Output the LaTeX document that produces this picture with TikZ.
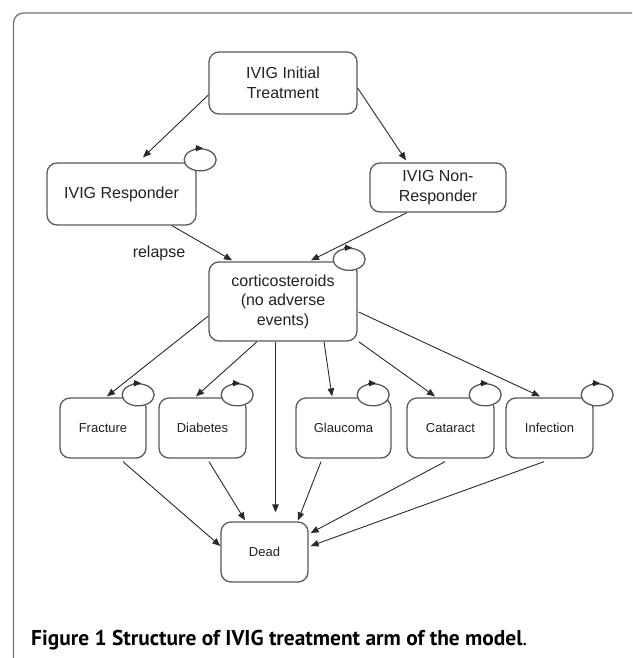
\documentclass[tikz,border=0pt]{standalone}
\usepackage{fontspec}
\setmainfont{Liberation Sans}
\newfontfamily\capfont{PT Sans}
\usetikzlibrary{arrows.meta,shapes.geometric,calc}
\definecolor{boxgray}{HTML}{5A5A5A}
\definecolor{linegray}{HTML}{2A2A2A}
\definecolor{framegray}{HTML}{707070}
\definecolor{txt}{HTML}{222222}
\begin{document}
\begin{tikzpicture}[x=1pt,y=-1pt,
  box/.style={draw=boxgray, line width=1.3pt, rounded corners=10pt, fill=white, inner sep=0pt,
    align=center, text=txt, font=\fontsize{16}{20}\selectfont},
  smallbox/.style={box, minimum height=60pt, font=\fontsize{13}{16}\selectfont},
  arr/.style={draw=linegray, line width=0.9pt, -{Triangle[length=8pt,width=6.5pt]}},
  loopell/.style={ellipse, draw=boxgray, line width=1.3pt, fill=white,
    minimum width=32pt, minimum height=22pt, inner sep=0pt},
  looptip/.style={draw=linegray, line width=0.9pt, -{Triangle[length=7pt,width=6pt]}},
]
\useasboundingbox (0,0) rectangle (632,658);
\fill[white] (0,0) rectangle (632,658);
\begin{scope}
  \clip (0,0) rectangle (632,658);
  \draw[framegray, line width=1.2pt, rounded corners=10pt] (13.5,13) rectangle (642,700);
\end{scope}

% main boxes
\node[box, minimum width=148pt, minimum height=62pt] (init) at (283,83) {IVIG Initial\\Treatment};
\node[box, minimum width=149pt, minimum height=62pt] (resp) at (121.5,194) {IVIG Responder};
\node[box, minimum width=136pt, minimum height=49pt] (nonresp) at (438,187.5) {IVIG Non-\\Responder};
\node[box, minimum width=148pt, minimum height=79pt, font=\fontsize{16}{19.5}\selectfont] (cort) at (283,301.5)
  {corticosteroids\\(no adverse\\events)};
\node[smallbox, minimum width=86pt] (fract) at (103,428) {Fracture};
\node[smallbox, minimum width=87pt] (diab) at (202.5,428) {Diabetes};
\node[smallbox, minimum width=95pt] (glauc) at (343.5,428) {Glaucoma};
\node[smallbox, minimum width=87pt] (catar) at (450.5,428) {Cataract};
\node[smallbox, minimum width=87pt] (infect) at (549.5,428) {Infection};
\node[smallbox, minimum width=87pt] (dead) at (264.5,552) {Dead};

\node[text=txt, font=\fontsize{16}{20}\selectfont, inner sep=0pt] (relapse) at (159,253) {relapse};

% self loops
\node[loopell] (respL) at ($(resp.north east)+(3.5,-2.5)$) {};
\node[loopell] (cortL) at ($(cort.north east)+(-8.5,-2)$) {};
\node[loopell] (fractL) at ($(fract.north east)+(-8.5,-2.5)$) {};
\node[loopell] (diabL) at ($(diab.north east)+(-9.5,-2.5)$) {};
\node[loopell] (glaucL) at ($(glauc.north east)+(-18.5,-2.5)$) {};
\node[loopell] (catarL) at ($(catar.north east)+(-9.5,-2.5)$) {};
\node[loopell] (infectL) at ($(infect.north east)+(3.5,-2.5)$) {};
\foreach \L in {respL,cortL,fractL,diabL,glaucL,catarL,infectL}{
  \draw[looptip] ($(\L.north)+(-5,0)$) -- ($(\L.north)+(3,0)$);
}

% connectors
\draw[arr] ($(init.west)+(0,12)$) -- ($(resp.north)+(21.5,-5)$);
\draw[arr] ($(init.east)+(0,5)$) -- ($(nonresp.north)+(-32,-2)$);
\draw[arr] ($(resp.south)+(50.5,0)$) -- ($(cort.north)+(-51,-1)$);
\draw[arr] ($(nonresp.south)+(-31,0)$) -- ($(cort.north)+(28,-1)$);

\draw[arr] ($(cort.west)+(0,14.5)$) -- ($(fract.north)+(4,-1)$);
\draw[arr] ($(cort.south)+(-26,0)$) -- ($(diab.north)+(-6.5,-1)$);
\draw[arr] ($(cort.south)+(-7.5,0)$) -- ($(dead.north)+(11,-9)$);
\draw[arr] ($(cort.south)+(41,0)$) -- ($(glauc.north)+(-11.5,-1)$);
\draw[arr] ($(cort.south east)+(1,0)$) -- ($(catar.north)+(-15.5,-1)$);
\draw[arr] ($(cort.east)+(1,10.5)$) -- ($(infect.north)+(-9.5,-1)$);

\draw[arr] ($(fract.south)+(20,3)$) -- ($(dead.west)+(0,-6)$);
\draw[arr] ($(diab.south)+(6.5,3)$) -- ($(dead.north)+(-19.5,-1)$);
\draw[arr] ($(glauc.south)+(-22.5,3)$) -- ($(dead.north)+(33.5,-1)$);
\draw[arr] ($(catar.south)+(-5.5,3)$) -- ($(dead.east)+(2,-19)$);
\draw[arr] ($(infect.south)+(-5.5,3)$) -- ($(dead.east)+(2,-6)$);

% caption
\node[anchor=base west, inner sep=0pt, text=black] (caption) at (31,645)
  {\resizebox{496pt}{!}{\capfont\fontsize{20}{24}\selectfont\bfseries Figure 1 Structure of IVIG treatment arm of the model{\mdseries.}}};
\end{tikzpicture}
\end{document}
